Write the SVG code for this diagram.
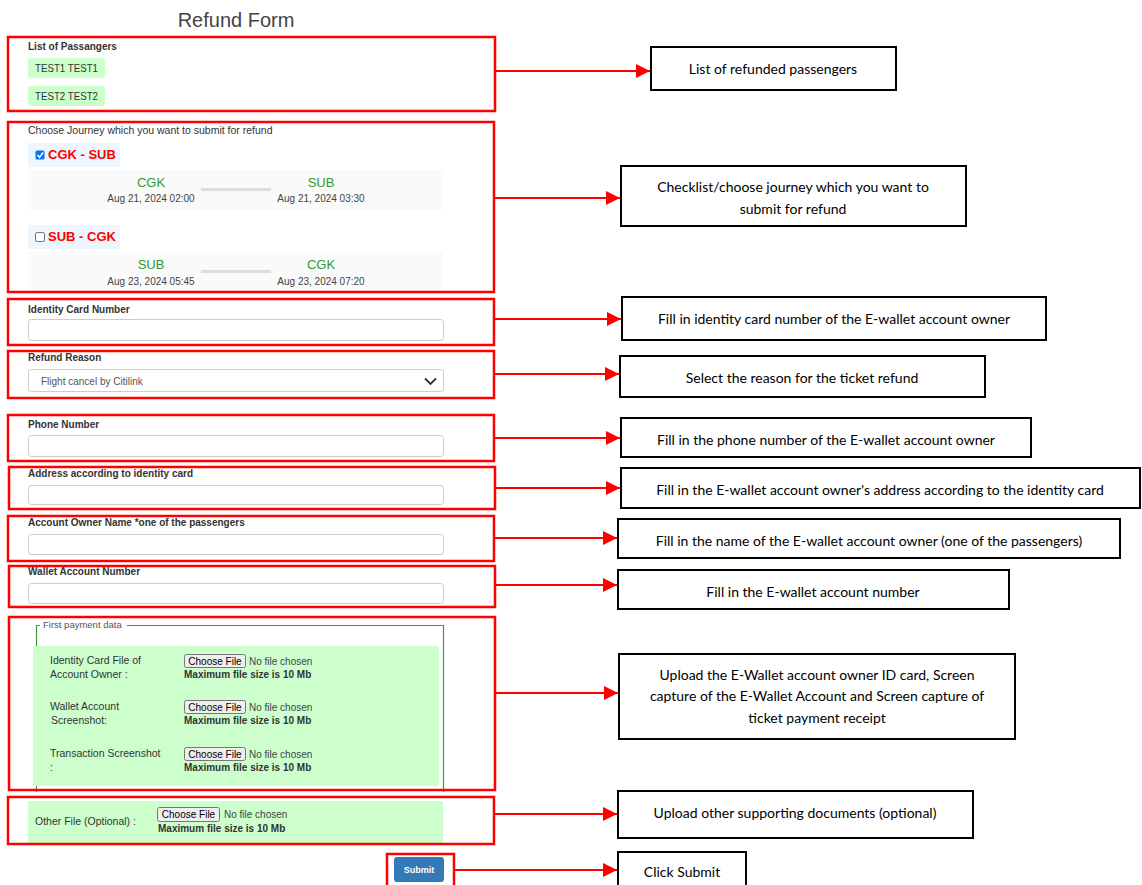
<svg xmlns="http://www.w3.org/2000/svg" width="1142" height="885" viewBox="0 0 1142 885">
<style>
.f{font-family:"Liberation Sans",Arial,sans-serif}
.lbl{font-family:"Liberation Sans",Arial,sans-serif;font-size:10px;font-weight:bold;fill:#333}
.rb{fill:none;stroke:#ff0000;stroke-width:2.5}
.bb{fill:#fff;stroke:#000;stroke-width:2}
.bt{font-family:Lato,"Open Sans",sans-serif;font-size:14px;fill:#000;text-anchor:middle}
.inp{fill:#fff;stroke:#ccc;stroke-width:1}
.pill{fill:#ccffcc}
.pt{font-family:"Liberation Sans",Arial,sans-serif;font-size:10.5px;fill:#333}
.jb{fill:#eef6fd}
.jt{font-family:"Liberation Sans",Arial,sans-serif;font-size:13px;font-weight:bold;fill:#ff0000}
.gp{fill:#fafafa}
.ap{font-family:"Liberation Sans",Arial,sans-serif;font-size:13px;fill:#339933;text-anchor:middle}
.dt{font-family:"Liberation Sans",Arial,sans-serif;font-size:10px;fill:#444;text-anchor:middle}
.bar{fill:#dddddd}
.fl{font-family:"Liberation Sans",Arial,sans-serif;font-size:10.5px;fill:#333}
.btn{fill:#efefef;stroke:#767676;stroke-width:1}
.btt{font-family:"Liberation Sans",Arial,sans-serif;font-size:10px;fill:#000}
.nf{font-family:"Liberation Sans",Arial,sans-serif;font-size:10px;fill:#444}
.mx{font-family:"Liberation Sans",Arial,sans-serif;font-size:10px;font-weight:bold;fill:#333}
.con{stroke:#ff0000;stroke-width:2;fill:none}
</style>
<defs>
<marker id="ah" markerWidth="14" markerHeight="14" refX="14" refY="7" orient="auto" markerUnits="userSpaceOnUse">
<path d="M0,0 L14,7 L0,14 z" fill="#ff0000"/>
</marker>
</defs>
<rect width="1142" height="885" fill="#fff"/>

<text class="f" x="236" y="27" font-size="20" fill="#444" text-anchor="middle">Refund Form</text>

<g id="form-passengers">
<text class="lbl" x="28" y="50">List of Passangers</text>
<rect class="pill" x="28" y="58" width="77" height="20" rx="3"/>
<text class="pt" x="66.5" y="72" text-anchor="middle" textLength="63" lengthAdjust="spacingAndGlyphs">TEST1 TEST1</text>
<rect class="pill" x="28" y="86" width="77" height="20" rx="3"/>
<text class="pt" x="66.5" y="100" text-anchor="middle" textLength="63" lengthAdjust="spacingAndGlyphs">TEST2 TEST2</text>
<rect class="rb" x="8" y="37" width="487" height="74"/>
</g>

<g id="form-journey">
<text class="fl" x="28" y="134">Choose Journey which you want to submit for refund</text>
<rect class="jb" x="28" y="143" width="92" height="24"/>
<rect x="35.5" y="150.5" width="9" height="9" rx="1.5" fill="#0075ff"/>
<path d="M37.5,155 L39.5,157.5 L43,152.5" stroke="#fff" stroke-width="1.5" fill="none"/>
<text class="jt" x="48" y="159">CGK - SUB</text>
<rect class="gp" x="28" y="170" width="415" height="40"/>
<text class="ap" x="151" y="187">CGK</text>
<text class="dt" x="151" y="202">Aug 21, 2024 02:00</text>
<rect class="bar" x="201" y="188" width="70" height="3"/>
<text class="ap" x="321" y="187">SUB</text>
<text class="dt" x="321" y="202">Aug 21, 2024 03:30</text>

<rect class="jb" x="28" y="225" width="92" height="24"/>
<rect x="35.5" y="232.5" width="9" height="9" rx="1.5" fill="#fff" stroke="#767676"/>
<text class="jt" x="48" y="241">SUB - CGK</text>
<rect class="gp" x="28" y="252" width="415" height="38"/>
<text class="ap" x="151" y="269">SUB</text>
<text class="dt" x="151" y="285">Aug 23, 2024 05:45</text>
<rect class="bar" x="201" y="270" width="70" height="3"/>
<text class="ap" x="321" y="269">CGK</text>
<text class="dt" x="321" y="285">Aug 23, 2024 07:20</text>
<rect class="rb" x="8" y="122" width="486" height="170"/>
</g>

<g id="form-identity">
<text class="lbl" x="28" y="313">Identity Card Number</text>
<rect class="inp" x="28.5" y="319.5" width="415" height="21" rx="3"/>
<rect class="rb" x="8" y="299" width="486" height="46"/>
</g>

<g id="form-reason">
<text class="lbl" x="28" y="361">Refund Reason</text>
<rect class="inp" x="28.5" y="369.5" width="415" height="22" rx="3"/>
<text class="f" x="41" y="385" font-size="10" fill="#555">Flight cancel by Citilink</text>
<path d="M425,378.5 L430.5,384 L436,378.5" stroke="#333" stroke-width="1.8" fill="none"/>
<rect class="rb" x="8" y="351" width="486" height="47"/>
</g>

<g id="form-phone">
<text class="lbl" x="28" y="428">Phone Number</text>
<rect class="inp" x="28.5" y="435.5" width="415" height="21" rx="3"/>
<rect class="rb" x="8" y="415" width="486" height="46"/>
</g>

<g id="form-address">
<text class="lbl" x="28" y="477">Address according to identity card</text>
<rect class="inp" x="28.5" y="485.5" width="415" height="19" rx="3"/>
<rect class="rb" x="9" y="467" width="486" height="42"/>
</g>

<g id="form-owner">
<text class="lbl" x="28" y="526">Account Owner Name *one of the passengers</text>
<rect class="inp" x="28.5" y="534.5" width="415" height="20" rx="3"/>
<rect class="rb" x="8" y="516" width="486" height="45"/>
</g>

<g id="form-wallet">
<text class="lbl" x="28" y="575">Wallet Account Number</text>
<rect class="inp" x="28.5" y="583.5" width="415" height="20" rx="3"/>
<rect class="rb" x="9" y="566" width="486" height="41"/>
</g>

<g id="form-payment">
<path d="M40,625.5 L36.5,625.5 L36.5,792 M443.5,792 L443.5,625.5 L127,625.5" stroke="#3c9a3c" stroke-width="1.2" fill="none"/>
<text class="f" x="43" y="628" font-size="9.5" fill="#555">First payment data</text>
<rect class="pill" x="33" y="646" width="406" height="140"/>
<text class="fl" x="50" y="664">Identity Card File of</text>
<text class="fl" x="50" y="678">Account Owner :</text>
<rect class="btn" x="184.5" y="654.5" width="61" height="13" rx="2"/>
<text class="btt" x="215" y="664.5" text-anchor="middle">Choose File</text>
<text class="nf" x="249" y="664.5">No file chosen</text>
<text class="mx" x="184" y="678">Maximum file size is 10 Mb</text>

<text class="fl" x="50" y="710">Wallet Account</text>
<text class="fl" x="51" y="724">Screenshot:</text>
<rect class="btn" x="184.5" y="700.5" width="61" height="13" rx="2"/>
<text class="btt" x="215" y="710.5" text-anchor="middle">Choose File</text>
<text class="nf" x="249" y="710.5">No file chosen</text>
<text class="mx" x="184" y="724">Maximum file size is 10 Mb</text>

<text class="fl" x="50" y="757">Transaction Screenshot</text>
<text class="fl" x="50" y="771">:</text>
<rect class="btn" x="184.5" y="747.5" width="61" height="13" rx="2"/>
<text class="btt" x="215" y="757.5" text-anchor="middle">Choose File</text>
<text class="nf" x="249" y="757.5">No file chosen</text>
<text class="mx" x="184" y="771">Maximum file size is 10 Mb</text>
<rect class="rb" x="9" y="617" width="486" height="173"/>
</g>

<g id="form-other">
<rect class="pill" x="28" y="801" width="415" height="42"/>
<text class="fl" x="35" y="825">Other File (Optional) :</text>
<rect class="btn" x="157.5" y="807.5" width="62" height="14" rx="2"/>
<text class="btt" x="188.5" y="818" text-anchor="middle">Choose File</text>
<text class="nf" x="224" y="818">No file chosen</text>
<text class="mx" x="158" y="832">Maximum file size is 10 Mb</text>
<rect class="rb" x="8" y="797" width="486" height="47"/>
</g>

<g id="form-submit">
<rect x="394" y="857" width="50" height="25" rx="3" fill="#337ab7"/>
<text class="f" x="419" y="873" font-size="9" font-weight="bold" fill="#fff" text-anchor="middle">Submit</text>
<rect class="rb" x="387" y="854" width="67" height="40"/>
</g>

<g id="connectors">
<line class="con" x1="495" y1="71" x2="650" y2="71" marker-end="url(#ah)"/>
<line class="con" x1="494" y1="198" x2="620" y2="198" marker-end="url(#ah)"/>
<line class="con" x1="494" y1="319" x2="621" y2="319" marker-end="url(#ah)"/>
<line class="con" x1="494" y1="374" x2="619" y2="374" marker-end="url(#ah)"/>
<line class="con" x1="494" y1="438" x2="620" y2="438" marker-end="url(#ah)"/>
<line class="con" x1="495" y1="488" x2="620" y2="488" marker-end="url(#ah)"/>
<line class="con" x1="494" y1="538" x2="617" y2="538" marker-end="url(#ah)"/>
<line class="con" x1="495" y1="585" x2="617" y2="585" marker-end="url(#ah)"/>
<line class="con" x1="495" y1="693" x2="618" y2="693" marker-end="url(#ah)"/>
<line class="con" x1="494" y1="814" x2="617" y2="814" marker-end="url(#ah)"/>
<line class="con" x1="454" y1="870" x2="617" y2="870" marker-end="url(#ah)"/>
</g>

<g id="note-passengers">
<rect class="bb" x="651" y="47" width="245" height="43"/>
<text class="bt" x="773" y="74">List of refunded passengers</text>
</g>
<g id="note-journey">
<rect class="bb" x="621" y="166" width="345" height="60"/>
<text class="bt" x="793" y="192">Checklist/choose journey which you want to</text>
<text class="bt" x="793" y="214">submit for refund</text>
</g>
<g id="note-identity">
<rect class="bb" x="622" y="297" width="424" height="43"/>
<text class="bt" x="834" y="324">Fill in identity card number of the E-wallet account owner</text>
</g>
<g id="note-reason">
<rect class="bb" x="620" y="356" width="365" height="41"/>
<text class="bt" x="802" y="383">Select the reason for the ticket refund</text>
</g>
<g id="note-phone">
<rect class="bb" x="621" y="418" width="410" height="39"/>
<text class="bt" x="826" y="445">Fill in the phone number of the E-wallet account owner</text>
</g>
<g id="note-address">
<rect class="bb" x="621" y="468" width="519" height="40"/>
<text class="bt" x="880" y="495">Fill in the E-wallet account owner's address according to the identity card</text>
</g>
<g id="note-owner">
<rect class="bb" x="618" y="519" width="502" height="39"/>
<text class="bt" x="869" y="546">Fill in the name of the E-wallet account owner (one of the passengers)</text>
</g>
<g id="note-wallet">
<rect class="bb" x="618" y="570" width="391" height="39"/>
<text class="bt" x="813" y="597">Fill in the E-wallet account number</text>
</g>
<g id="note-upload">
<rect class="bb" x="619" y="654" width="396" height="85"/>
<text class="bt" x="817" y="680">Upload the E-Wallet account owner ID card, Screen</text>
<text class="bt" x="817" y="701">capture of the E-Wallet Account and Screen capture of</text>
<text class="bt" x="817" y="723">ticket payment receipt</text>
</g>
<g id="note-other">
<rect class="bb" x="618" y="791" width="355" height="47"/>
<text class="bt" x="795" y="818">Upload other supporting documents (optional)</text>
</g>
<g id="note-submit">
<rect class="bb" x="618" y="852" width="128" height="40"/>
<text class="bt" x="682" y="877">Click Submit</text>
</g>
</svg>
